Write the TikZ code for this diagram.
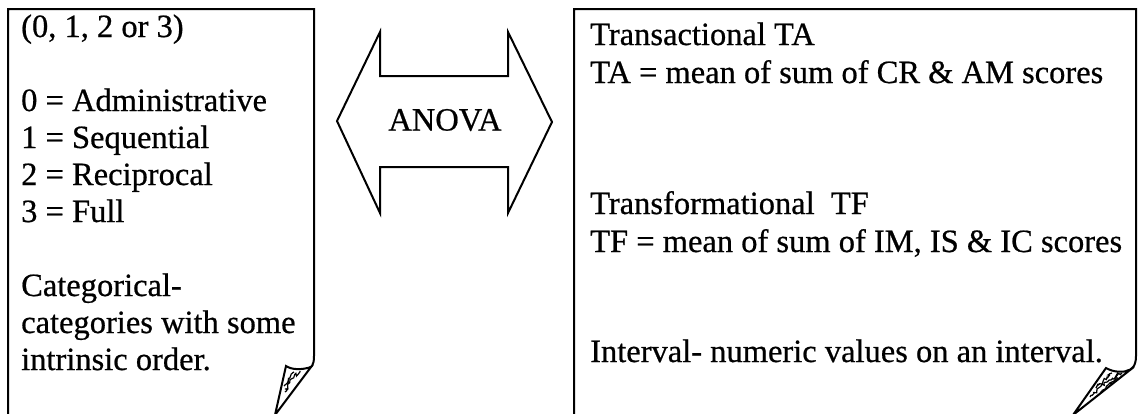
\documentclass[tikz,border=0pt]{standalone}
\usepackage{fontspec}
\setmainfont{Liberation Serif}[FakeBold=0.6]
\usetikzlibrary{decorations.pathmorphing}
\begin{document}
\begin{tikzpicture}[x=1pt,y=-1pt,
  frame/.style={line width=2pt, line join=miter},
  txt/.style={anchor=base west, inner sep=0pt, font=\fontsize{32.5}{37}\selectfont},
  curl/.style={line width=2pt, line join=miter, fill=white},
  grain/.style={line width=1.2pt, decorate,
    decoration={random steps, segment length=1.5pt, amplitude=1.5pt}}]
\useasboundingbox (0,0) rectangle (1140,413);

% left page with its curled corner
\draw[frame] (8,420) -- (8,9) -- (314,9) -- (314,356)
  .. controls (314,365) and (312,368) .. (306,369);
\draw[curl] (286,366) .. controls (292,370) and (302,370) .. (311,367)
  -- (275,415) -- cycle;
\begin{scope}
  \clip (286,366) .. controls (292,370) and (302,370) .. (311,367) -- (275,415) -- cycle;
  \draw[grain] (300,371) -- (290,380) -- (285,392);
  \draw[grain] (294,372) -- (284,386);
\end{scope}

% right page with its curled corner
\draw[frame] (574,420) -- (574,9) -- (1136,9) -- (1136,356)
  .. controls (1136,366) and (1132,370) .. (1126,371);
\draw[curl] (1106,368) .. controls (1113,372) and (1122,373) .. (1130,370)
  -- (1073,415) -- cycle;
\begin{scope}
  \clip (1106,368) .. controls (1113,372) and (1122,373) .. (1130,370) -- (1073,415) -- cycle;
  \draw[grain] (1122,373) -- (1104,384) -- (1090,397);
  \draw[grain] (1112,373) -- (1096,388);
  \draw[grain] (1118,378) -- (1100,392);
\end{scope}

% double-headed block arrow
\draw[frame] (337,121) -- (380,32) -- (380,76) -- (508,76) -- (508,32)
  -- (552,122) -- (508,213) -- (508,167) -- (380,167) -- (380,213) -- cycle;
\node[inner sep=0pt, font=\fontsize{32.5}{37}\selectfont] (anova) at (445,120) {ANOVA};

% left page text
\node[txt] (l1) at (21,37)  {(0, 1, 2 or 3)};
\node[txt] (l2) at (21,111) {0 = Administrative};
\node[txt] (l3) at (21,148) {1 = Sequential};
\node[txt] (l4) at (21,185) {2 = Reciprocal};
\node[txt] (l5) at (21,222) {3 = Full};
\node[txt] (l6) at (21,296) {Categorical-};
\node[txt] (l7) at (21,333) {categories with some};
\node[txt] (l8) at (21,370) {intrinsic order.};

% right page text
\node[txt] (r1) at (590,45)  {Transactional TA};
\node[txt] (r2) at (590,83)  {TA = mean of sum of CR \& AM scores};
\node[txt] (r3) at (590,214) {Transformational\ \ TF};
\node[txt] (r4) at (590,252) {TF = mean of sum of IM, IS \& IC scores};
\node[txt] (r5) at (590,362) {Interval- numeric values on an interval.};
\end{tikzpicture}
\end{document}
